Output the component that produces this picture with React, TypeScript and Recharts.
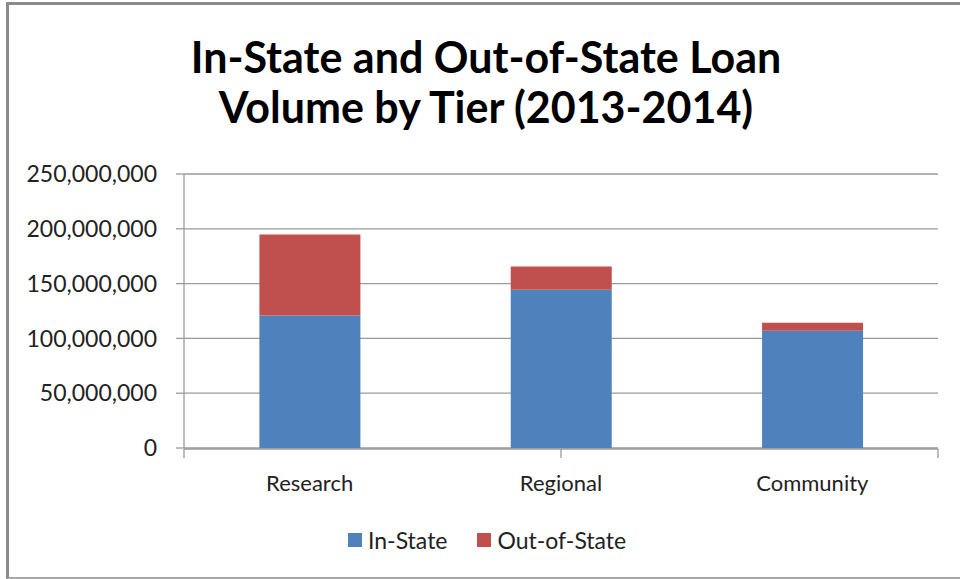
import React from 'react';
import { BarChart, Bar, XAxis, YAxis, CartesianGrid } from 'recharts';

const categories = ['Research', 'Regional', 'Community'];
const inState = [121000000, 144500000, 107000000];
const outOfState = [73800000, 21000000, 7200000];
const yTicks = [0, 50000000, 100000000, 150000000, 200000000, 250000000];
const boundaryTicks = [0, 1, 2, 3];
const seriesNames = ['In-State', 'Out-of-State'];
const seriesColors = ['#4F81BD', '#C0504D'];
const titleLines = ['In-State and Out-of-State Loan', 'Volume by Tier (2013-2014)'];

const data = categories.map((name, i) => ({
  name,
  inState: inState[i],
  outOfState: outOfState[i],
}));

const FONT = 'Lato, "Open Sans", sans-serif';
const GRID = '#9a9a9a';

export default function App() {
  return (
    <div style={{ position: 'fixed', left: 0, top: 0, width: 960, height: 579, background: '#fff', overflow: 'hidden', fontFamily: FONT }}>
      <div style={{ position: 'absolute', left: 6, top: 2, width: 1000, height: 572, borderLeft: '3px solid #8a8a8a', borderTop: '3px solid #8a8a8a', borderBottom: '2px solid #a8a8a8' }} />
      <div style={{ position: 'absolute', left: 0, width: 972, top: 32, textAlign: 'center', fontWeight: 700, fontSize: 43, lineHeight: '50px', color: '#000' }}>
        {titleLines.map((t) => (
          <div key={t}>{t}</div>
        ))}
      </div>
      <div style={{ position: 'absolute', left: 0, top: 0 }}>
        <BarChart width={960} height={579} data={data} margin={{ top: 174, right: 22, left: 0, bottom: 80 }} barCategoryGap="30%">
          <CartesianGrid horizontal vertical={false} stroke={GRID} strokeWidth={1.3} xAxisId="cat" />
          <XAxis xAxisId="cat" dataKey="name" height={1} axisLine={false} tickLine={false} tickSize={0} tickMargin={27} tick={{ fill: '#222', fontSize: 22, fontFamily: FONT }} />
          <XAxis xAxisId="grid" type="number" domain={[0, 3]} ticks={boundaryTicks} height={50} tickFormatter={() => ''} tickSize={9} axisLine={{ stroke: GRID, strokeWidth: 1.3 }} tickLine={{ stroke: GRID, strokeWidth: 1.3 }} />
          <YAxis width={184} domain={[0, 250000000]} ticks={yTicks} interval={0} tickFormatter={(v: number) => v.toLocaleString('en-US')} tickSize={8} tickMargin={19} axisLine={{ stroke: GRID, strokeWidth: 1.3 }} tickLine={{ stroke: GRID, strokeWidth: 1.3 }} tick={{ fill: '#222', fontSize: 23, fontFamily: FONT }} />
          <Bar xAxisId="cat" dataKey="inState" name={seriesNames[0]} stackId="a" fill={seriesColors[0]} isAnimationActive={false} />
          <Bar xAxisId="cat" dataKey="outOfState" name={seriesNames[1]} stackId="a" fill={seriesColors[1]} isAnimationActive={false} />
        </BarChart>
      </div>
      <div style={{ position: 'absolute', left: 348, top: 526, display: 'flex', alignItems: 'center', fontSize: 23, color: '#222', lineHeight: '28px' }}>
        {seriesNames.map((n, i) => (
          <div key={n} style={{ display: 'flex', alignItems: 'center', marginRight: 30 }}>
            <span style={{ display: 'inline-block', width: 14, height: 14, background: seriesColors[i], marginRight: 6 }} />
            <span>{n}</span>
          </div>
        ))}
      </div>
    </div>
  );
}
